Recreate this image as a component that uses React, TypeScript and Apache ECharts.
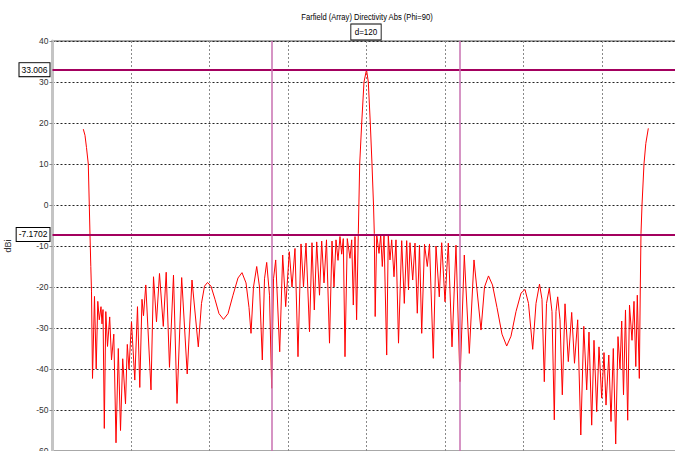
import React, { useEffect, useRef } from "react";
import * as echarts from "echarts";

// Theta (deg) and directivity (dBi), left to right
const theta = [
  -108.23, -107.58, -107.01, -106.32, -105.94, -105.67, -105.36, -105.1, -104.71, -103.95,
  -103.3, -102.69, -102.12, -101.47, -101.08, -100.7, -100.2, -99.63, -98.98, -98.14,
  -97.45, -96.57, -95.73, -94.85, -94.01, -93.17, -92.1, -91.41, -90.77, -89.81,
  -88.55, -87.52, -86.64, -85.8, -85.22, -84.35, -82.36, -81.4, -80.26, -79.11,
  -77.66, -76.55, -75.29, -73.76, -72.42, -70.63, -68.52, -66.69, -64.28, -63.06,
  -61.91, -60.77, -59.43, -57.9, -56.37, -54.65, -52.93, -51.02, -49.11, -47.58,
  -46.05, -44.9, -44.14, -43.19, -41.96, -40.89, -39.82, -38.98, -38.14, -37.07,
  -36.23, -35.54, -34.7, -33.17, -32.03, -30.88, -29.5, -28.47, -27.33, -26.18,
  -25.03, -24.08, -23.12, -21.78, -20.83, -19.95, -19.03, -17.96, -17.12, -16.24,
  -15.29, -14.14, -13.18, -12.42, -11.66, -10.89, -10.13, -9.48, -8.87, -8.22,
  -7.34, -6.31, -5.66, -5.04, -4.39, -3.78, -3.13, -2.6, -1.83, -0.96,
  0, 0.69, 1.45, 2.1, 2.68, 2.98, 3.32, 3.9, 4.78, 5.43,
  6.04, 6.69, 7.72, 8.33, 8.98, 9.63, 10.51, 11.27, 12.23, 13.45,
  14.45, 15.36, 16.05, 16.62, 17.66, 18.54, 19.41, 20.25, 21.1, 22.17,
  23.24, 24.08, 25.53, 26.56, 27.82, 28.74, 30.0, 31.26, 32.68, 34.2,
  35.73, 37.38, 39.29, 41.08, 43.76, 45.1, 46.62, 48.15, 49.87, 51.78,
  53.58, 55.22, 57.13, 59.05, 60.57, 61.91, 63.52, 64.78, 66.12, 67.07,
  67.95, 68.79, 69.86, 70.89, 71.77, 72.42, 73.07, 73.95, 74.83, 75.86,
  77.12, 78.42, 79.49, 80.71, 81.9, 83.04, 84.15, 85.03, 86.06, 86.94,
  87.98, 88.85, 89.89, 90.77, 91.53, 92.6, 93.44, 94.32, 95.24, 96.11,
  96.88, 97.53, 98.22, 98.98, 99.82, 100.51, 101.47, 102.23, 102.92, 103.49,
  104.26, 104.64, 104.9, 105.29, 106.05, 106.74, 107.7,
];
const dbi = [
  18.5, 17, 14, 10, 0, -7.2, -15, -21, -42.3, -22.3,
  -40, -23.5, -28, -24.8, -29, -25.5, -54.5, -26, -34.5, -27.3,
  -37.8, -31.5, -58, -35, -55, -37.5, -48.5, -34, -40, -28.5,
  -42.7, -24.8, -44.5, -23, -27, -19.5, -45.1, -17.5, -28.5, -16.7,
  -29.6, -16.4, -39.6, -17.1, -48.4, -17.7, -41.2, -18.3, -34.6, -24,
  -19.8, -18.9, -19.8, -23, -26.5, -27.9, -26.5, -22, -17.8, -16.5,
  -19, -25, -31.3, -20, -15, -20, -37.8, -18, -14, -22,
  -44.7, -18, -13.4, -35.8, -12.2, -24.8, -11.4, -20, -10.6, -37,
  -9.5, -20, -9.3, -30.9, -9.2, -25.6, -9, -22, -8.8, -19,
  -8.5, -33.7, -8.8, -20, -8.5, -13.5, -7.7, -12, -8.2, -37,
  -8.2, -13, -8.5, -24.4, -7.7, -28, -7, 10, 20, 30,
  33.006, 30, 20, 10, 0, -7, -27.2, -7.17, -11.8, -7.3,
  -15, -7.4, -36.6, -7.5, -13.4, -8.5, -17.5, -8.5, -33.7, -8.7,
  -24, -8.7, -20.7, -9.2, -18.3, -9.3, -26.4, -9.8, -31.3, -9.6,
  -15, -9.5, -37.4, -10, -22.4, -9.2, -23.6, -9.3, -34.6, -9.8,
  -43.1, -12.2, -36.2, -13.4, -30.5, -20, -17.3, -19.5, -25, -31.5,
  -34.4, -32, -26, -21.5, -20.6, -24, -35.2, -24, -19.3, -23,
  -43.1, -24, -20.3, -26, -52.4, -26, -22.4, -28, -46.3, -24.1,
  -38.2, -26.2, -38.6, -28, -56.1, -29.6, -45.1, -31, -53.7, -33,
  -50.4, -34.6, -47.1, -36, -48.8, -36.6, -52.8, -35, -58.3, -32.1,
  -40, -28.3, -46.3, -25.6, -52.5, -24.4, -33, -23.5, -39.4, -22,
  -42.3, -20, -7, 0, 10, 15, 18.7,
];

const yTicks = [40, 30, 20, 10, 0, -10, -20, -30, -40, -50, -60];
const peakLevel = 33.006;
const sideLobeLevel = -7.1702;
const markerThetas = [-36.1, 35.7];
const titleText = "Farfield (Array) Directivity Abs (Phi=90)";
const boxText = "d=120";
const yName = "dBi";

const FONT = "Liberation Sans, Arial, sans-serif";

export default function App() {
  const ref = useRef<HTMLDivElement>(null);
  useEffect(() => {
    if (!ref.current) return;
    const chart = echarts.init(ref.current, undefined, { renderer: "svg" });
    const data = theta.map((t, i) => [t, dbi[i]]);
    const boxLabel = {
      show: true,
      position: "start",
      distance: 3,
      color: "#000",
      fontSize: 8.5,
      fontFamily: FONT,
      backgroundColor: "#fff",
      borderColor: "#000",
      borderWidth: 1,
      padding: [2, 2, 2, 2],
    };
    chart.setOption({
      animation: false,
      backgroundColor: "#fff",
      grid: {
        left: 52.5,
        top: 41,
        width: 628,
        height: 410,
        containLabel: false,
        outerBoundsMode: "none",
        show: true,
        borderColor: "#a8a8a8",
        borderWidth: 2,
        backgroundColor: "transparent",
      },
      xAxis: {
        type: "value",
        min: -120,
        max: 120,
        interval: 30,
        axisLine: { show: false, onZero: false },
        axisTick: { show: false },
        axisLabel: { show: false },
        splitLine: { show: true, lineStyle: { color: "#8a8a8a", type: [2, 2], width: 1 } },
      },
      yAxis: {
        type: "value",
        min: -60,
        max: 40,
        interval: 10,
        name: yName,
        nameLocation: "middle",
        nameRotate: 90,
        nameGap: 40,
        nameTextStyle: { fontSize: 9, fontFamily: FONT, color: "#333" },
        axisLine: { show: true, onZero: false, lineStyle: { color: "#c4c4c4", width: 3 } },
        axisTick: { show: true, length: 3, lineStyle: { color: "#888" } },
        axisLabel: {
          fontSize: 8.5,
          fontFamily: FONT,
          color: "#333",
          margin: 4,
          formatter: (v: number) => (yTicks.includes(v) ? String(v) : ""),
        },
        splitLine: { show: true, lineStyle: { color: "#222", type: [2, 2], width: 1 } },
      },
      graphic: [
        {
          type: "text",
          x: 367,
          y: 17,
          scaleX: 0.8,
          style: {
            text: titleText,
            fill: "#000",
            font: `9.5px ${FONT}`,
            align: "center",
            verticalAlign: "middle",
          },
        },
        {
          type: "text",
          x: 366,
          y: 32,
          scaleX: 0.85,
          style: {
            text: boxText,
            fill: "#000",
            font: `9.5px ${FONT}`,
            align: "center",
            verticalAlign: "middle",
            backgroundColor: "#fff",
            borderColor: "#000",
            borderWidth: 1,
            padding: [3, 4, 2, 4],
          },
        },
      ],
      series: [
        {
          type: "line",
          data,
          showSymbol: false,
          symbol: "none",
          lineStyle: { color: "#ff0000", width: 1 },
          z: 3,
          markLine: {
            silent: true,
            symbol: "none",
            animation: false,
            data: [
              { yAxis: peakLevel, label: { ...boxLabel, formatter: String(peakLevel) }, lineStyle: { color: "#a3005e", width: 2, type: "solid" } },
              { yAxis: sideLobeLevel, label: { ...boxLabel, formatter: String(sideLobeLevel) }, lineStyle: { color: "#a3005e", width: 2, type: "solid" } },
              ...markerThetas.map((t) => ({
                xAxis: t,
                label: { show: false },
                lineStyle: { color: "#c870b0", width: 1.5, type: "solid" },
              })),
            ],
          },
        },
      ],
    });
    return () => chart.dispose();
  }, []);
  return (
    <div style={{ position: "fixed", left: 0, top: 0, width: 675, height: 451, overflow: "hidden", background: "#fff" }}>
      <div ref={ref} style={{ width: 690, height: 470 }} />
    </div>
  );
}
